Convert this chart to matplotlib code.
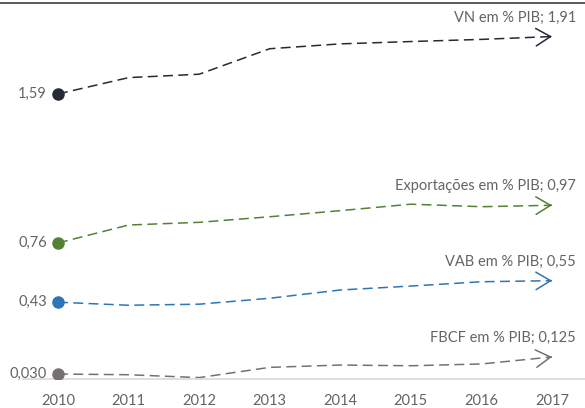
import matplotlib
matplotlib.use("Agg")
import matplotlib.pyplot as plt
import numpy as np
from matplotlib.lines import Line2D

plt.rcParams['font.family'] = ['Lato', 'DejaVu Sans']

years = ['2010', '2011', '2012', '2013', '2014', '2015', '2016', '2017']

vn = [1.59, 1.681, 1.700, 1.842, 1.869, 1.882, 1.894, 1.91]
exportacoes = [0.76, 0.860, 0.875, 0.906, 0.940, 0.976, 0.962, 0.97]
vab = [0.43, 0.413, 0.419, 0.452, 0.498, 0.520, 0.544, 0.55]
fbcf = [0.030, 0.026, 0.010, 0.067, 0.080, 0.076, 0.086, 0.125]

start_labels = ['1,59', '0,76', '0,43', '0,030']
end_labels = ['VN em % PIB; 1,91', 'Exportações em % PIB; 0,97',
              'VAB em % PIB; 0,55', 'FBCF em % PIB; 0,125']
colors = ['#262a35', '#538135', '#2e75b6', '#767171']
text_color = '#646464'

fig = plt.figure(figsize=(5.85, 4.08), dpi=100)
ax = fig.add_axes([22.7 / 585, (408 - 379.4) / 408, 564.6 / 585, 0.88])

x = np.arange(len(years))
series = [vn, exportacoes, vab, fbcf]
for vals, col, s_lab, e_lab in zip(series, colors, start_labels, end_labels):
    ax.plot(x, vals, color=col, lw=1.1, dashes=(6.5, 3.5), solid_capstyle='butt')
    ax.plot(x[0], vals[0], 'o', color=col, ms=8, zorder=3)
    # open arrow head at the last point, pointing along the last segment
    t = 0.03
    tail = (x[-1] - t, vals[-1] - t * (vals[-1] - vals[-2]))
    ax.annotate('', xy=(x[-1], vals[-1]), xytext=tail,
                arrowprops=dict(arrowstyle='->,head_length=0.75,head_width=0.45',
                                color=col, lw=1.1,
                                shrinkA=0, shrinkB=0, mutation_scale=14))
    ax.annotate(s_lab, xy=(x[0], vals[0]), xytext=(-11, 0), textcoords='offset pixels',
                ha='right', va='center', fontsize=10.5, color=text_color)
    ax.annotate(e_lab, xy=(x[-1], vals[-1]), xytext=(24, 19), textcoords='offset pixels',
                ha='right', va='center', fontsize=10.5, color=text_color,
                annotation_clip=False)

ax.set_xlim(-0.5, 7.5)
ax.set_ylim(0, 2.0)
ax.set_xticks(x)
ax.set_xticklabels(years, fontsize=10.5, color=text_color)
ax.tick_params(axis='x', length=0, pad=10.5)
ax.set_yticks([])
for side in ['top', 'right', 'left']:
    ax.spines[side].set_visible(False)
ax.spines['bottom'].set_color('#d9d9d9')
ax.spines['bottom'].set_linewidth(1.2)

# dark rule along the top of the picture
fig.add_artist(Line2D([0, 1], [1 - 3 / 408, 1 - 3 / 408], color='#404040', lw=1.2,
                      transform=fig.transFigure))

fig.savefig('out.png', dpi=100)
